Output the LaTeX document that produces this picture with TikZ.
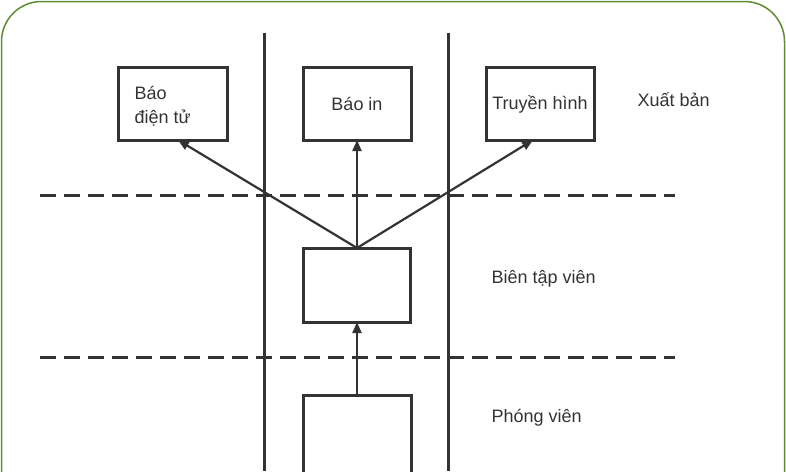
\documentclass[tikz,border=0pt]{standalone}
\usepackage{fontspec}
\setmainfont{Liberation Sans}
\usepackage{xcolor}
\definecolor{frame}{HTML}{5E8C31}
\definecolor{ink}{HTML}{333333}
\usetikzlibrary{arrows.meta}

\begin{document}
\begin{tikzpicture}[x=1pt,y=-1pt,
            box/.style={draw=ink, line width=3pt},
            lbl/.style={font=\fontsize{18}{24}\selectfont, text=ink},
            flow/.style={draw=ink, line width=2.2pt, -{Triangle[length=11pt,width=9pt]}}]
        \useasboundingbox (0,0) rectangle (786,471);
        \draw[frame, line width=1.5pt, rounded corners=40pt] (1.5,520) -- (1.5,1.5) -- (784.5,1.5) -- (784.5,520);

        % columns
        \draw[ink, line width=3pt] (264,33) -- (264,471);
        \draw[ink, line width=3pt] (448,33) -- (448,471);

        % levels
        \draw[ink, line width=3pt, dash pattern=on 16pt off 8pt] (40,195) -- (675,195);
        \draw[ink, line width=3pt, dash pattern=on 16pt off 8pt] (40,357) -- (675,357);

        % boxes
        \draw[box] (118,67) rectangle (227,140);
        \draw[box] (303,67) rectangle (411,140);
        \draw[box] (486,67) rectangle (594,140);
        \draw[box] (303,248) rectangle (410,322);
        \draw[box] (303,395) rectangle (411,480);

        \coordinate (dtu) at (178,140);
        \coordinate (bin) at (357,140);
        \coordinate (tvh) at (533,140);
        \coordinate (btvtop) at (357,248);
        \coordinate (btvbot) at (357,322);
        \coordinate (pvtop) at (357,395);

        \node[lbl, anchor=west, align=left] (dtutext) at (131,106) {Báo\\điện tử};
        \node[lbl] (bintext) at (357,104) {Báo in};
        \node[lbl] (tvhtext) at (540,104) {Truyền hình};
        \node[lbl, anchor=west] (xb) at (634,100) {Xuất bản};
        \node[lbl, anchor=west] (btv) at (488,279) {Biên tập viên};
        \node[lbl, anchor=west] (pv) at (488,418) {Phóng viên};

        \draw[flow] (btvtop) -- (dtu);
        \draw[flow] (btvtop) -- (bin);
        \draw[flow] (btvtop) -- (tvh);
        \draw[flow] (pvtop) -- (btvbot);
    \end{tikzpicture}
\end{document}
